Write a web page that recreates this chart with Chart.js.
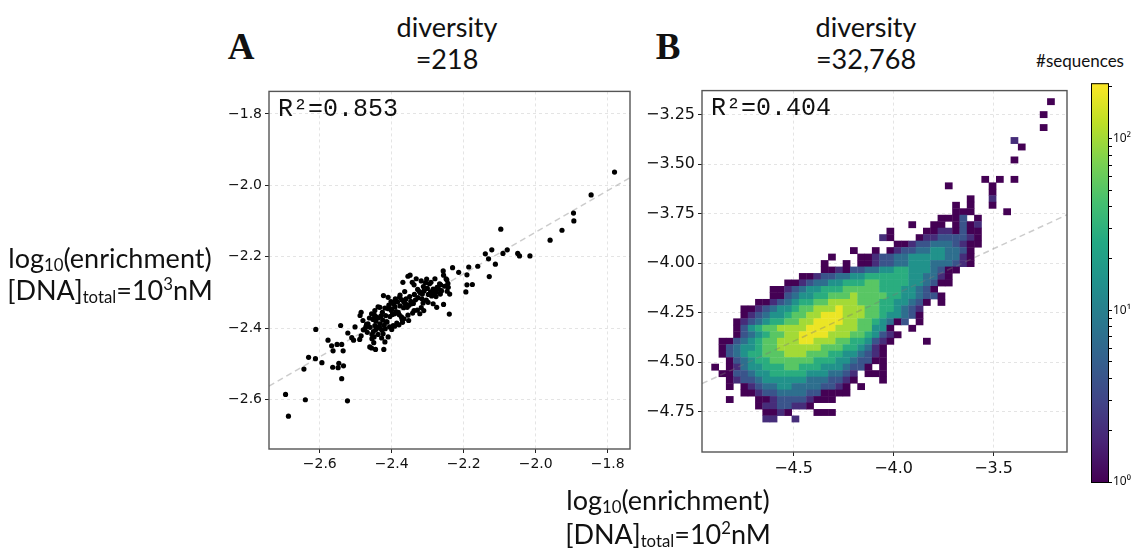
<!DOCTYPE html>
<html>
<head>
<meta charset="utf-8">
<script src="https://cdn.jsdelivr.net/npm/chart.js@4.4.1/dist/chart.umd.min.js"></script>
<style>
  body { margin: 0; background: #fff; }
  #page { position: relative; width: 1134px; height: 549px; overflow: hidden; font-family: Lato, sans-serif; color: #111; }
  canvas { position: absolute; }
  .t { position: absolute; white-space: nowrap; transform: translateX(-50%); line-height: 1; }
  .t sub { font-size: 62%; vertical-align: -0.2em; line-height: 0; }
  .t sup { font-size: 62%; vertical-align: 0.6em; line-height: 0; }
  .big { font-size: 27px; }
  .panel { font-family: "Liberation Serif", serif; font-weight: bold; font-size: 37px; }
  .r2 { position: absolute; font-family: "Liberation Mono", monospace; font-size: 25px; line-height: 1; }
</style>
</head>
<body>
<div id="page">
  <canvas id="chartA" width="440" height="410" style="left:200px;top:80px;width:440px;height:410px"></canvas>
  <canvas id="chartB" width="450" height="410" style="left:630px;top:78px;width:450px;height:410px"></canvas>
  <canvas id="chartC" width="49" height="420" style="left:1085px;top:75px;width:49px;height:420px"></canvas>

  <div class="t panel" style="left:241px;top:28px">A</div>
  <div class="t big" style="left:447px;top:13px">diversity</div>
  <div class="t big" style="left:447px;top:45px">=218</div>
  <div class="t panel" style="left:668px;top:28px">B</div>
  <div class="t big" style="left:866px;top:13px">diversity</div>
  <div class="t big" style="left:866px;top:45px">=32,768</div>
  <div class="t" style="left:1080px;top:52px;font-size:17px">#sequences</div>

  <div class="t big" style="left:110px;top:244px">log<sub>10</sub>(enrichment)</div>
  <div class="t big" style="left:110px;top:276px">[DNA]<sub>total</sub>=10<sup>3</sup>nM</div>
  <div class="t big" style="left:668px;top:486px">log<sub>10</sub>(enrichment)</div>
  <div class="t big" style="left:668px;top:520px">[DNA]<sub>total</sub>=10<sup>2</sup>nM</div>

  <div class="r2" style="left:278px;top:97px">R²=0.853</div>
  <div class="r2" style="left:711px;top:96px">R²=0.404</div>
</div>
<script>
// panel A: one point per sequence (x = 10^2 nM, y = 10^3 nM)
const scatterA = [
  [-1.781,-1.963],[-1.846,-2.027],[-1.895,-2.078],[-1.894,-2.100],[-1.927,-2.126],[-1.960,-2.154],
  [-2.016,-2.198],[-2.045,-2.198],[-2.050,-2.191],[-2.079,-2.181],[-2.091,-2.191],[-2.097,-2.123],
  [-2.112,-2.221],[-2.122,-2.181],[-2.131,-2.206],[-2.140,-2.192],[-2.129,-2.256],[-2.161,-2.227],
  [-2.176,-2.278],[-2.186,-2.229],[-2.191,-2.251],[-2.191,-2.279],[-2.194,-2.299],[-2.214,-2.244],
  [-2.231,-2.231],[-2.240,-2.361],[-2.257,-2.240],[-2.256,-2.252],[-2.256,-2.334],[-2.247,-2.265],
  [-2.244,-2.275],[-2.243,-2.286],[-2.239,-2.305],[-2.264,-2.279],[-2.265,-2.305],[-2.270,-2.291],
  [-2.695,-2.586],[-2.687,-2.647],[-2.640,-2.601],[-2.523,-2.604],[-2.644,-2.515],[-2.631,-2.482],
  [-2.612,-2.486],[-2.611,-2.404],[-2.594,-2.497],[-2.577,-2.434],[-2.567,-2.450],[-2.564,-2.510],
  [-2.563,-2.464],[-2.552,-2.446],[-2.549,-2.511],[-2.547,-2.499],[-2.539,-2.446],[-2.542,-2.393],
  [-2.539,-2.542],[-2.535,-2.464],[-2.534,-2.506],[-2.522,-2.414],[-2.511,-2.427],[-2.506,-2.434],
  [-2.502,-2.397],[-2.485,-2.356],[-2.489,-2.432],[-2.485,-2.422],[-2.479,-2.405],[-2.472,-2.397],
  [-2.466,-2.388],[-2.461,-2.453],[-2.456,-2.456],[-2.450,-2.441],[-2.445,-2.460],[-2.422,-2.460],
  [-2.455,-2.418],[-2.449,-2.425],
  [-2.349,-2.252],[-2.369,-2.272],[-2.343,-2.272],[-2.338,-2.279],[-2.328,-2.292],[-2.315,-2.305],
  [-2.323,-2.298],[-2.312,-2.284],[-2.303,-2.263],[-2.306,-2.273],[-2.295,-2.276],[-2.291,-2.272],
  [-2.285,-2.291],[-2.276,-2.300],[-2.263,-2.295],
  [-2.423,-2.309],[-2.410,-2.314],[-2.390,-2.323],[-2.378,-2.314],[-2.366,-2.328],[-2.357,-2.342],
  [-2.345,-2.332],[-2.338,-2.351],[-2.322,-2.360],[-2.311,-2.351],[-2.299,-2.328],[-2.285,-2.332],
  [-2.275,-2.342],
  [-2.456,-2.360],[-2.447,-2.351],[-2.443,-2.369],[-2.433,-2.342],[-2.426,-2.356],[-2.417,-2.365],
  [-2.410,-2.346],[-2.401,-2.351],[-2.392,-2.360],[-2.382,-2.356],[-2.373,-2.369],[-2.366,-2.374],
  [-2.353,-2.379],
  [-2.480,-2.379],[-2.447,-2.393],[-2.435,-2.397],[-2.427,-2.406],[-2.418,-2.402],[-2.415,-2.383],
  [-2.406,-2.397],[-2.396,-2.393],[-2.380,-2.391],[-2.371,-2.376],[-2.424,-2.416],[-2.419,-2.439],
  [-2.410,-2.425],
  [-2.462,-2.372],[-2.452,-2.376],[-2.448,-2.364],[-2.444,-2.381],[-2.437,-2.372],[-2.433,-2.388],
  [-2.430,-2.366],[-2.425,-2.378],[-2.421,-2.392],[-2.419,-2.344],[-2.413,-2.383],[-2.408,-2.336],
  [-2.405,-2.368],[-2.400,-2.347],[-2.398,-2.362],[-2.395,-2.333],[-2.391,-2.341],[-2.388,-2.354],
  [-2.386,-2.386],[-2.384,-2.327],[-2.379,-2.363],[-2.377,-2.338],[-2.372,-2.321],[-2.370,-2.384],
  [-2.367,-2.343],[-2.362,-2.331],[-2.360,-2.318],[-2.355,-2.364],[-2.352,-2.336],[-2.350,-2.312],
  [-2.347,-2.325],[-2.342,-2.358],[-2.340,-2.331],[-2.337,-2.306],[-2.334,-2.321],[-2.329,-2.350],
  [-2.327,-2.315],[-2.321,-2.301],[-2.318,-2.343],[-2.316,-2.318],[-2.313,-2.330],[-2.310,-2.296],
  [-2.304,-2.322],[-2.301,-2.289],[-2.298,-2.306],[-2.292,-2.299],[-2.289,-2.310],[-2.283,-2.305],
  [-2.280,-2.295],[-2.277,-2.312],[-2.274,-2.286],[-2.267,-2.276],[-2.262,-2.296],[-2.253,-2.283],
  [-2.249,-2.262],[-2.246,-2.297],
  [-2.470,-2.390],[-2.475,-2.404],[-2.468,-2.412],[-2.460,-2.398],[-2.455,-2.430],[-2.451,-2.410],
  [-2.444,-2.404],[-2.438,-2.418],[-2.432,-2.401],[-2.428,-2.428],[-2.400,-2.404],[-2.392,-2.395],
  [-2.355,-2.255],[-2.332,-2.262],[-2.318,-2.268],[-2.280,-2.262],[-2.364,-2.298],[-2.377,-2.308],
  [-2.390,-2.318],[-2.402,-2.326],[-2.438,-2.341],[-2.488,-2.365]
];
const fitA = [[-2.741,-2.563],[-1.738,-1.979]];
const fitB = [[-4.958,-4.608],[-3.133,-3.755]];

// panel B: 2d histogram, one entry per row from the top: [first column, level per column]
const heatRows = [
  [46,"1"], [0,""], [45,"1"], [0,""], [45,"1"], [0,""], [41,"2"], [42,"1"], [0,""], [41,"1"],
  [0,""], [0,""], [37,"1.1.1"], [32,"1.....1"], [38,"1"], [35,"1..2"], [33,"1.1..1"], [33,"111....1"],
  [31,"1113.1"], [27,"1..11.1312"], [24,"1....11221311"], [23,"21...122333321"], [25,"112334443211"],
  [19,"1..1.123344554431"], [16,"1...1123344555554421"], [15,"1..1.1123344555444321"],
  [15,"1121334455665554311"], [12,"112334455666666554421"], [10,"11234455666776666554311"],
  [8,"11234556667777766655431"], [8,"113455667778777766554331"], [6,"112345667788887776655431.1"],
  [4,"1123455677888988877665432"], [4,"1234556778899988877655431"], [3,"123456677889999887765413.1"],
  [3,"1356778888999988877551..1"], [3,"13456778899998887765321"], [1,"113456778889988877665321....1"],
  [1,"13455677888888777665421"], [1,"13456677788877766554321"], [2,"1345667777776665543311"],
  [0,"1.12455666776665554331.1"], [1,"1133455666665554432.111"], [2,"123345555554443321...1"],
  [2,"1.123445544443321.1"], [4,"112334444331111"], [2,"1...11233332111"], [6,"12233221"],
  [7,"1121...111"], [7,"22..2"]
];
const levelCounts = [0, 1, 2, 4, 7, 15, 28, 52, 100, 180];
const heatX0 = -4.9115, heatDX = 0.0365, heatYTop = -3.1665, heatDY = 0.0327;
const cbMax = 210;

const leftTicks = [-2.6, -2.4, -2.2, -2.0, -1.8];
const rightXTicks = [-4.5, -4.0, -3.5];
const rightYTicks = [-4.75, -4.5, -4.25, -4.0, -3.75, -3.5, -3.25];
const cbTicks = [1,2,3,4,5,6,7,8,9,10,20,30,40,50,60,70,80,90,100,200];
const cbLabels = { 1: '10⁰', 10: '10¹', 100: '10²' };

const viridisStops = ['#440154','#482475','#414487','#355f8d','#2a788e','#21918c','#22a884','#44bf70','#7ad151','#bddf26','#fde725'];

function hexRgb(h) {
  return [parseInt(h.slice(1,3),16), parseInt(h.slice(3,5),16), parseInt(h.slice(5,7),16)];
}

function viridis(t) {
  t = Math.min(1, Math.max(0, t));
  const p = t * 10;
  const i = Math.min(9, Math.floor(p));
  const f = p - i;
  const a = hexRgb(viridisStops[i]), b = hexRgb(viridisStops[i + 1]);
  return 'rgb(' + a.map((v, k) => Math.round(v + (b[k] - v) * f)).join(',') + ')';
}

function fmt(d) {
  return v => (v < 0 ? '\u2212' : '') + Math.abs(v).toFixed(d);
}

function axis(min, max, ticks, d, size, fit) {
  return {
    type: 'linear', min: min, max: max,
    afterBuildTicks: s => { s.ticks = ticks.map(v => ({ value: v })); },
    afterFit: fit,
    grid: { color: '#e4e4e4', lineWidth: 1, tickColor: '#222', tickLength: 4, tickWidth: 1 },
    border: { display: false, dash: [3, 3] },
    ticks: { color: '#111', font: { family: 'DejaVu Sans', size: size }, padding: 3,
             maxRotation: 0, autoSkip: false, callback: fmt(d) }
  };
}

const framePlugin = {
  id: 'frame',
  afterDraw(chart) {
    const { ctx, chartArea: a } = chart;
    ctx.save();
    ctx.strokeStyle = '#555';
    ctx.lineWidth = 1.4;
    ctx.strokeRect(a.left, a.top, a.width, a.height);
    ctx.restore();
  }
};

const heatPlugin = {
  id: 'heat',
  beforeDatasetsDraw(chart) {
    const { ctx, chartArea: a, scales: { x, y } } = chart;
    ctx.save();
    ctx.beginPath();
    ctx.rect(a.left, a.top, a.width, a.height);
    ctx.clip();
    heatRows.forEach(([c0, s], r) => {
      for (let i = 0; i < s.length; i++) {
        const lv = s.charCodeAt(i) - 48;
        if (lv < 1 || lv > 9) continue;
        const c = c0 + i;
        const px0 = x.getPixelForValue(heatX0 + c * heatDX);
        const px1 = x.getPixelForValue(heatX0 + (c + 1) * heatDX);
        const py0 = y.getPixelForValue(heatYTop - r * heatDY);
        const py1 = y.getPixelForValue(heatYTop - (r + 1) * heatDY);
        ctx.fillStyle = viridis(Math.log(levelCounts[lv]) / Math.log(cbMax));
        ctx.fillRect(px0, py0, px1 - px0 + 0.4, py1 - py0 + 0.4);
      }
    });
    ctx.restore();
  }
};

const colorbarPlugin = {
  id: 'colorbar',
  beforeDatasetsDraw(chart) {
    const { ctx, chartArea: a } = chart;
    const g = ctx.createLinearGradient(0, a.bottom, 0, a.top);
    viridisStops.forEach((c, i) => g.addColorStop(i / 10, c));
    ctx.save();
    ctx.fillStyle = g;
    ctx.fillRect(a.left, a.top, a.width, a.height);
    ctx.strokeStyle = '#000';
    ctx.lineWidth = 1;
    ctx.strokeRect(a.left + 0.5, a.top + 0.5, a.width - 1, a.height);
    ctx.restore();
  }
};

const lineStyle = { type: 'line', borderColor: 'rgba(120,120,120,0.38)', borderWidth: 1.5,
                    borderDash: [6, 4], pointRadius: 0, fill: false };

Chart.defaults.animation = false;
Chart.defaults.plugins.legend.display = false;
Chart.defaults.plugins.tooltip.enabled = false;

new Chart('chartA', {
  type: 'scatter',
  data: {
    datasets: [
      { data: scatterA.map(p => ({ x: p[0], y: p[1] })), backgroundColor: '#000', borderWidth: 0, pointRadius: 2.6 },
      Object.assign({ data: fitA.map(p => ({ x: p[0], y: p[1] })) }, lineStyle)
    ]
  },
  options: {
    responsive: false, devicePixelRatio: 1,
    layout: { padding: { top: 9, right: 10, left: 0, bottom: 0 } },
    scales: {
      x: axis(-2.741, -1.738, leftTicks, 1, 14, s => { s.height = 41; }),
      y: axis(-2.739, -1.737, leftTicks, 1, 14, s => { s.width = 69; })
    }
  },
  plugins: [framePlugin]
});

new Chart('chartB', {
  type: 'scatter',
  data: {
    datasets: [ Object.assign({ data: fitB.map(p => ({ x: p[0], y: p[1] })) }, lineStyle) ]
  },
  options: {
    responsive: false, devicePixelRatio: 1,
    layout: { padding: { top: 9, right: 13, left: 0, bottom: 0 } },
    scales: {
      x: axis(-4.958, -3.133, rightXTicks, 1, 16, s => { s.height = 36; }),
      y: axis(-4.953, -3.128, rightYTicks, 2, 16, s => { s.width = 72; })
    }
  },
  plugins: [heatPlugin, framePlugin]
});

new Chart('chartC', {
  type: 'scatter',
  data: { datasets: [] },
  options: {
    responsive: false, devicePixelRatio: 1,
    layout: { padding: { top: 8, right: 0, left: 6, bottom: 13 } },
    scales: {
      x: { display: false, min: 0, max: 1 },
      y: {
        type: 'logarithmic', position: 'right', min: 1, max: cbMax,
        afterBuildTicks: s => { s.ticks = cbTicks.map(v => ({ value: v })); },
        afterFit: s => { s.width = 25; },
        grid: { drawOnChartArea: false, tickColor: '#000', tickLength: 3, tickWidth: 1 },
        border: { display: false },
        ticks: { color: '#111', font: { family: 'Noto Sans', size: 12 }, padding: 1,
                 autoSkip: false, callback: v => cbLabels[v] || '' }
      }
    }
  },
  plugins: [colorbarPlugin]
});
</script>
</body>
</html>
